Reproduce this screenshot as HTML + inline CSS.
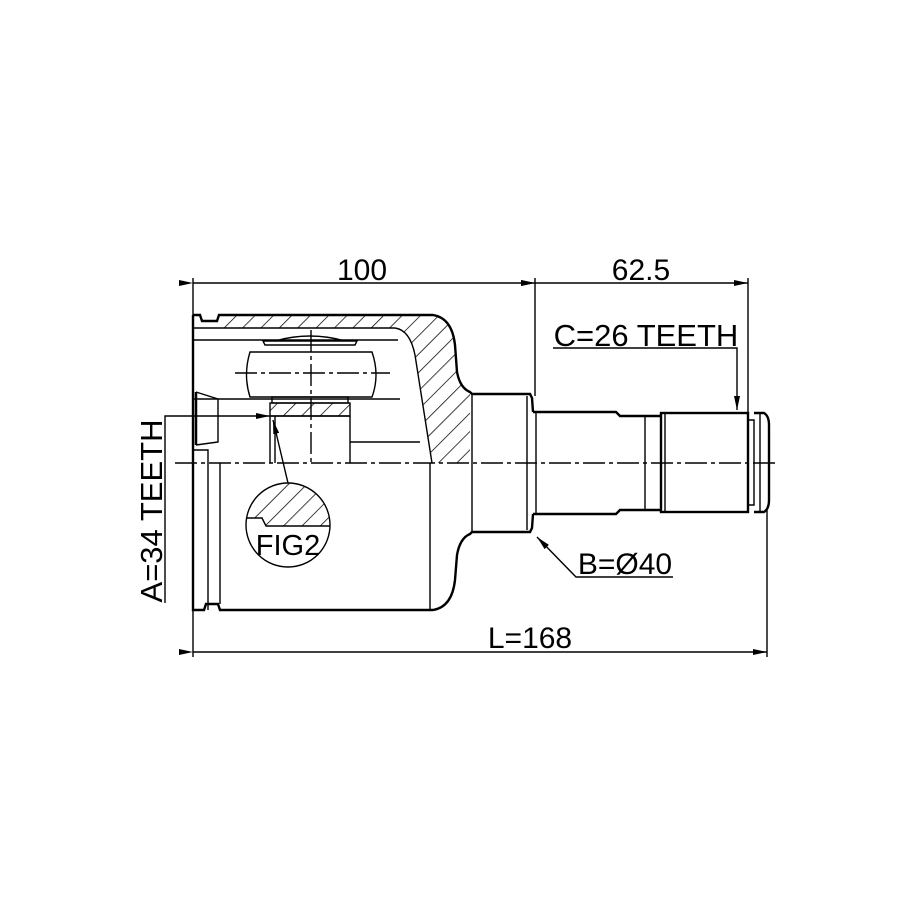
<!DOCTYPE html>
<html><head><meta charset="utf-8"><style>
html,body{margin:0;padding:0;background:#fff;}
svg{display:block;}
text{font-family:"Liberation Sans",sans-serif;fill:#000;}
</style></head><body>
<svg width="915" height="915" viewBox="0 0 915 915" xmlns="http://www.w3.org/2000/svg">
<defs>
<pattern id="h" patternUnits="userSpaceOnUse" width="13" height="13" patternTransform="rotate(45)">
<line x1="0" y1="0" x2="0" y2="13" stroke="#000" stroke-width="1.5"/>
</pattern>
<marker id="a" markerWidth="14" markerHeight="8" refX="14" refY="4" orient="auto" markerUnits="userSpaceOnUse">
<path d="M0,1 L14,4 L0,7 Z" fill="#000"/>
</marker>
</defs>
<rect width="915" height="915" fill="#fff"/>
<g fill="none" stroke="#000" stroke-width="1.4">
<line x1="193" y1="278" x2="193" y2="657"/>
<line x1="535" y1="278" x2="535" y2="396"/>
<line x1="748" y1="278" x2="748" y2="412"/>
<line x1="767" y1="510" x2="767" y2="657"/>
<line x1="193" y1="283" x2="535" y2="283" marker-start="url(#a)" marker-end="url(#a)"/>
<line x1="535" y1="283" x2="748" y2="283" marker-start="url(#a)" marker-end="url(#a)"/>
<line x1="193" y1="652" x2="767" y2="652" marker-start="url(#a)" marker-end="url(#a)"/>
<path d="M219,315 L433,315 Q452,318 455,345 L457,372 Q460,388 470,392 L470,463 L432,463 Q425,420 415,355 Q410,330 395,328 L219,328 Z" fill="url(#h)" stroke="none"/>
<path d="M193,315 L200,315 L202,321 L217,321 L219,315 L433,315 Q452,318 455,345 L457,372 Q460,388 470,392 L472,394 L530,394 L532,398 L533,412" stroke-width="2.4"/>
<path d="M193,315 L193,610 L204,610 L206,604 L218,604 L220,610 L433,610 Q452,607 455,580 L457,555 Q460,538 470,534 L472,532 L530,532 L532,528 L533,514" stroke-width="2.4"/>
<line x1="472" y1="394" x2="472" y2="532"/>
<line x1="193" y1="328" x2="395" y2="328"/>
<path d="M395,328 Q410,330 415,355 Q425,420 432,463"/>
<line x1="193" y1="340" x2="398" y2="340"/>
<line x1="193" y1="399" x2="400" y2="399"/>
<line x1="350" y1="442" x2="420" y2="442"/>
<line x1="430" y1="463" x2="430" y2="610"/>
<path d="M196,392 L218,399 L218,442 L196,445"/>
<line x1="196" y1="392" x2="196" y2="445" stroke-width="2.5"/>
<path d="M193,450 L208,450 L208,463" />
<line x1="208" y1="463" x2="208" y2="610"/>
<line x1="220" y1="463" x2="220" y2="604"/>
<path d="M250,352 L372,352 Q380,375 372,397 L250,397 Q243,375 250,352 Z"/>
<path d="M265,345 L355,345 L357,341 L263,341 Z"/>
<path d="M275,341 Q310,331 345,341"/>
<rect x="272" y="397" width="76" height="6"/>
<rect x="270" y="403" width="80" height="13" fill="url(#h)"/>
<line x1="270" y1="416" x2="350" y2="416"/>
<line x1="270" y1="416" x2="270" y2="463"/>
<line x1="275" y1="416" x2="275" y2="463"/>
<line x1="350" y1="416" x2="350" y2="463"/>
<path d="M533,412 L536,412 L616,412 L620,416 L661,416 M533,514 L616,514 L620,510 L661,510" stroke-width="2.4"/>
<line x1="536" y1="412" x2="536" y2="514"/>
<line x1="527" y1="396" x2="527" y2="530"/>
<line x1="645" y1="416" x2="645" y2="510"/>
<rect x="661" y="413" width="87" height="99" stroke-width="2.4"/>
<line x1="665" y1="413" x2="665" y2="512"/>
<path d="M748,420 L754,420 L754,505 L748,505"/>
<path d="M754,413 L764,413 Q769,416 769,425 L769,500 Q769,509 764,512 L754,512" stroke-width="2.4"/>
<line x1="760" y1="413" x2="760" y2="512"/>
<line x1="175" y1="463" x2="778" y2="463" stroke-dasharray="22,4,4,4"/>
<line x1="235" y1="373" x2="390" y2="373" stroke-dasharray="22,4,4,4"/>
<line x1="311" y1="330" x2="311" y2="463" stroke-dasharray="22,4,4,4"/>
<circle cx="288" cy="525" r="42"/>
<path d="M249,518 L262,518 L266,526 L330,526 Q330,490 290,483 Q255,487 249,518 Z" fill="url(#h)" stroke="none"/>
<path d="M247,518 L262,518 L266,526 L330,526"/>
<line x1="288" y1="483" x2="273" y2="420" marker-end="url(#a)"/>
<polyline points="165,603 165,416 270,416" marker-end="url(#a)"/>
<polyline points="553,348 737,348 737,410" marker-end="url(#a)"/>
<polyline points="673,577 576,577 537,537" marker-end="url(#a)"/>
</g>
<text x="362" y="280" font-size="30" text-anchor="middle">100</text>
<text x="641" y="280" font-size="30" text-anchor="middle">62.5</text>
<text x="646" y="346" font-size="31" text-anchor="middle">C=26 TEETH</text>
<text x="625" y="574" font-size="30" text-anchor="middle">B=Ø40</text>
<text x="530" y="648" font-size="30" text-anchor="middle">L=168</text>
<text x="288" y="555" font-size="29" text-anchor="middle">FIG2</text>
<text transform="translate(162,511) rotate(-90)" font-size="31" text-anchor="middle">A=34 TEETH</text>
</svg>
</body></html>
